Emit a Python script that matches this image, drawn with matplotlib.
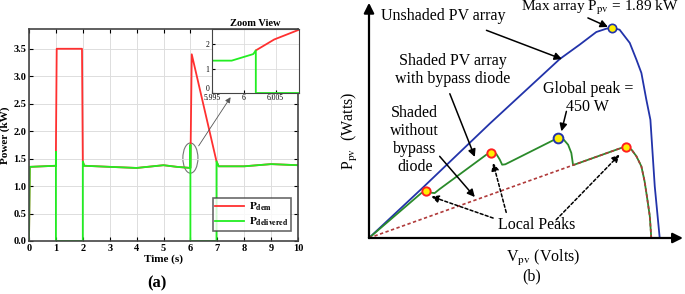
import numpy as np
import matplotlib.pyplot as plt
from matplotlib.patches import Ellipse

plt.rcParams['font.family'] = ['Liberation Serif', 'DejaVu Serif']
plt.rcParams['mathtext.fontset'] = 'stix'

# (a) power demanded / delivered vs time
t_dem = [0, 0.03, 1.0, 1.0, 1.03, 1.97, 2.0, 2.05, 3, 4, 5, 5.5, 6.0, 6.05, 6.97, 7.05, 8, 9, 10]
p_dem = [0, 1.35, 1.37, 1.62, 3.5, 3.5, 1.45, 1.37, 1.35, 1.33, 1.38, 1.35, 1.33, 3.4, 1.45, 1.36, 1.36, 1.40, 1.38]
t_del = [0, 0.03, 1.0, 1.0, 1.0, 2.0, 2.0, 2.05, 3, 4, 5, 5.5, 6.0, 6.0, 6.0, 6.97, 6.97, 7.05, 8, 9, 10]
p_del = [0, 1.35, 1.37, 1.62, 0, 0, 1.45, 1.37, 1.35, 1.33, 1.38, 1.35, 1.33, 1.75, 0, 0, 1.45, 1.36, 1.36, 1.40, 1.38]

# zoom view around t = 6 s
zt_dem = [6.0019, 6.0048, 6.0087]
zp_dem = [1.75, 2.2, 2.6]
zt_del = [5.995, 5.9981, 6.0015, 6.0019, 6.0019, 6.0087]
zp_del = [1.33, 1.33, 1.6, 1.75, 0, 0]

# (b) P-V curves (normalised voltage / power)
v_unshaded = [0, 0.186, 0.415, 0.656, 0.725, 0.782, 0.817, 0.837, 0.862, 0.897, 0.920, 0.937, 0.954, 0.968, 0.983, 1.0]
p_unshaded = [0, 0.241, 0.544, 0.852, 0.921, 0.981, 0.997, 1.0, 0.992, 0.929, 0.849, 0.786, 0.659, 0.563, 0.246, 0]
v_bypass = [0, 0.180, 0.197, 0.211, 0.226, 0.243, 0.404, 0.419, 0.438, 0.450, 0.458, 0.469, 0.633, 0.650, 0.670,
            0.685, 0.696, 0.702, 0.868, 0.885, 0.903, 0.920, 0.937, 0.948, 0.956, 0.966, 0.971]
p_bypass = [0, 0.214, 0.222, 0.216, 0.214, 0.233, 0.397, 0.405, 0.400, 0.373, 0.349, 0.351, 0.465, 0.475, 0.468,
            0.444, 0.405, 0.347, 0.429, 0.433, 0.421, 0.389, 0.341, 0.270, 0.198, 0.103, 0]
v_nobypass = [0, 0.868, 0.885, 0.903, 0.920, 0.937, 0.948, 0.956, 0.966, 0.971]
p_nobypass = [0, 0.429, 0.433, 0.421, 0.389, 0.341, 0.270, 0.198, 0.103, 0]
v_local = [0.197, 0.419, 0.885]
p_local = [0.222, 0.405, 0.433]
v_global, p_global = 0.650, 0.475
v_max, p_max = 0.837, 1.0

W, H = 685, 294
fig = plt.figure(figsize=(W / 100, H / 100), dpi=100)

red = '#ff3030'
green = '#22ee22'

ax = fig.add_axes([29 / W, (H - 241) / H, 269 / W, 212 / H])
ax.plot(t_dem, p_dem, color=red, lw=1.3, label=r'$\mathbf{P_{dem}}$')
ax.plot(t_del, p_del, color=green, lw=1.3, label=r'$\mathbf{P_{delivered}}$')
ax.set_xlim(0, 10)
ax.set_ylim(0, 3.86)
ax.set_xticks(range(11))
ax.set_yticks(np.arange(0, 3.6, 0.5))
ax.set_yticklabels(['%.1f' % v for v in np.arange(0, 3.6, 0.5)])
ax.grid(color='#dddddd', lw=0.7)
ax.tick_params(direction='in', top=True, right=True, labelsize=7.5, pad=2, length=3)
for lab in ax.get_xticklabels() + ax.get_yticklabels():
    lab.set_fontweight('bold')
for s in ax.spines.values():
    s.set_color('#444444')
    s.set_linewidth(1.2)
ax.set_xlabel('Time (s)', fontsize=8, fontweight='bold', labelpad=1)
ax.set_ylabel('Power (kW)', fontsize=8, fontweight='bold', labelpad=2)
leg = ax.legend(loc='lower right', bbox_to_anchor=(0.995, 0.02), fontsize=8, frameon=True,
                fancybox=False, edgecolor='#444444', handlelength=2.6, handletextpad=0.4,
                borderpad=0.25, labelspacing=0.25)
leg.get_frame().set_linewidth(1.2)

ax.add_patch(Ellipse((6.0, 1.51), 0.56, 0.55, fill=False, ec='#777777', lw=0.8))
ax.annotate('', xy=(7.55, 2.66), xytext=(6.25, 1.69),
            arrowprops=dict(arrowstyle='-|>', color='#555555', lw=0.6, mutation_scale=8))

ins = fig.add_axes([212 / W, (H - 93) / H, 87 / W, 64 / H])
ins.plot(zt_dem, zp_dem, color=red, lw=1.3)
ins.plot(zt_del, zp_del, color=green, lw=1.3)
ins.set_xlim(5.995, 6.0087)
ins.set_ylim(0, 2.63)
ins.set_xticks([5.995, 6.0, 6.005])
ins.set_xticklabels(['5.995', '6', '6.005'])
ins.set_yticks([0, 1, 2])
ins.grid(color='#dddddd', lw=0.6)
ins.tick_params(direction='in', labelsize=5.5, pad=1, length=2)
ins.tick_params(axis='y', pad=2)
ins.get_yticklabels()[0].set_va('bottom')
for s in ins.spines.values():
    s.set_color('#444444')
ins.set_title('Zoom View', fontsize=7.5, fontweight='bold', pad=2)

fig.text(157 / W, 1 - 283 / H, '(a)', fontsize=12, fontweight='bold', ha='center', va='center')

# (b) schematic
bx = fig.add_axes([369 / W, (H - 238) / H, 290.7 / W, 210 / H])
bx.set_xlim(0, 1)
bx.set_ylim(0, 1)
bx.axis('off')
bx.plot(v_unshaded, p_unshaded, color='#2233aa', lw=1.3, clip_on=False)
bx.plot(v_bypass, p_bypass, color='#2a8a2a', lw=1.3, clip_on=False)
bx.plot(v_nobypass, p_nobypass, color='#b03a3a', lw=1.2, ls=(0, (2, 1.5)), clip_on=False)
bx.plot(v_local, p_local, 'o', ms=6, mfc='#ffee00', mec='#ff2020', mew=1.4, clip_on=False, zorder=5)
bx.plot([v_global], [p_global], 'o', ms=7, mfc='#ffee00', mec='#2233aa', mew=1.4, clip_on=False, zorder=5)
bx.plot([v_max], [p_max], 'o', ms=6, mfc='#ffee00', mec='#2233aa', mew=1.2, clip_on=False, zorder=5)

axis_arrow = dict(arrowstyle='-|>', color='black', lw=1.6, mutation_scale=15, shrinkA=0, shrinkB=0)
bx.annotate('', xy=(0, 1.12), xytext=(0, 0), arrowprops=axis_arrow, annotation_clip=False)
bx.annotate('', xy=(1.08, 0), xytext=(0, 0), arrowprops=axis_arrow, annotation_clip=False)

fs = 11.5
bx.text(0.795, 1.095, r'Max array P$_{\rm pv}$ = 1.89 kW', fontsize=11, ha='center', va='center')
bx.text(0.255, 1.056, 'Unshaded PV array', fontsize=fs, ha='center', va='center')
bx.text(0.289, 0.80, 'Shaded PV array\nwith bypass diode', fontsize=fs, ha='center', va='center', linespacing=1.15)
bx.text(0.753, 0.665, 'Global peak =\n450 W', fontsize=fs, ha='center', va='center', linespacing=1.15)
bx.text(0.157, 0.467, 'Shaded\nwithout\nbypass\ndiode', fontsize=fs, ha='center', va='center', linespacing=1.15)
bx.text(0.578, 0.060, 'Local Peaks', fontsize=fs, ha='center', va='center')
bx.text(-0.067, 0.508, r'P$_{\rm pv}$  (Watts)', fontsize=fs, ha='center', va='center', rotation=90)
bx.text(0.599, -0.095, r'V$_{\rm pv}$ (Volts)', fontsize=fs, ha='center', va='center')
bx.text(0.558, -0.183, '(b)', fontsize=fs, ha='center', va='center')

solid = dict(arrowstyle='-|>', color='black', lw=1.1, mutation_scale=11, shrinkA=0, shrinkB=0)
for tail, head in [((0.753, 1.048), (0.822, 1.005)), ((0.404, 0.989), (0.664, 0.852)),
                   ((0.278, 0.687), (0.364, 0.386)), ((0.679, 0.603), (0.662, 0.508)),
                   ((0.243, 0.389), (0.364, 0.195))]:
    bx.annotate('', xy=head, xytext=tail, arrowprops=solid, annotation_clip=False)
dashed = dict(arrowstyle='-|>', color='black', lw=1.1, ls=(0, (2, 1.5)), mutation_scale=11, shrinkA=0, shrinkB=0)
for tail, head in [((0.427, 0.095), (0.214, 0.198)), ((0.472, 0.122), (0.427, 0.357)),
                   ((0.644, 0.087), (0.862, 0.397))]:
    bx.annotate('', xy=head, xytext=tail, arrowprops=dashed, annotation_clip=False)

fig.savefig('out.png', dpi=100)
